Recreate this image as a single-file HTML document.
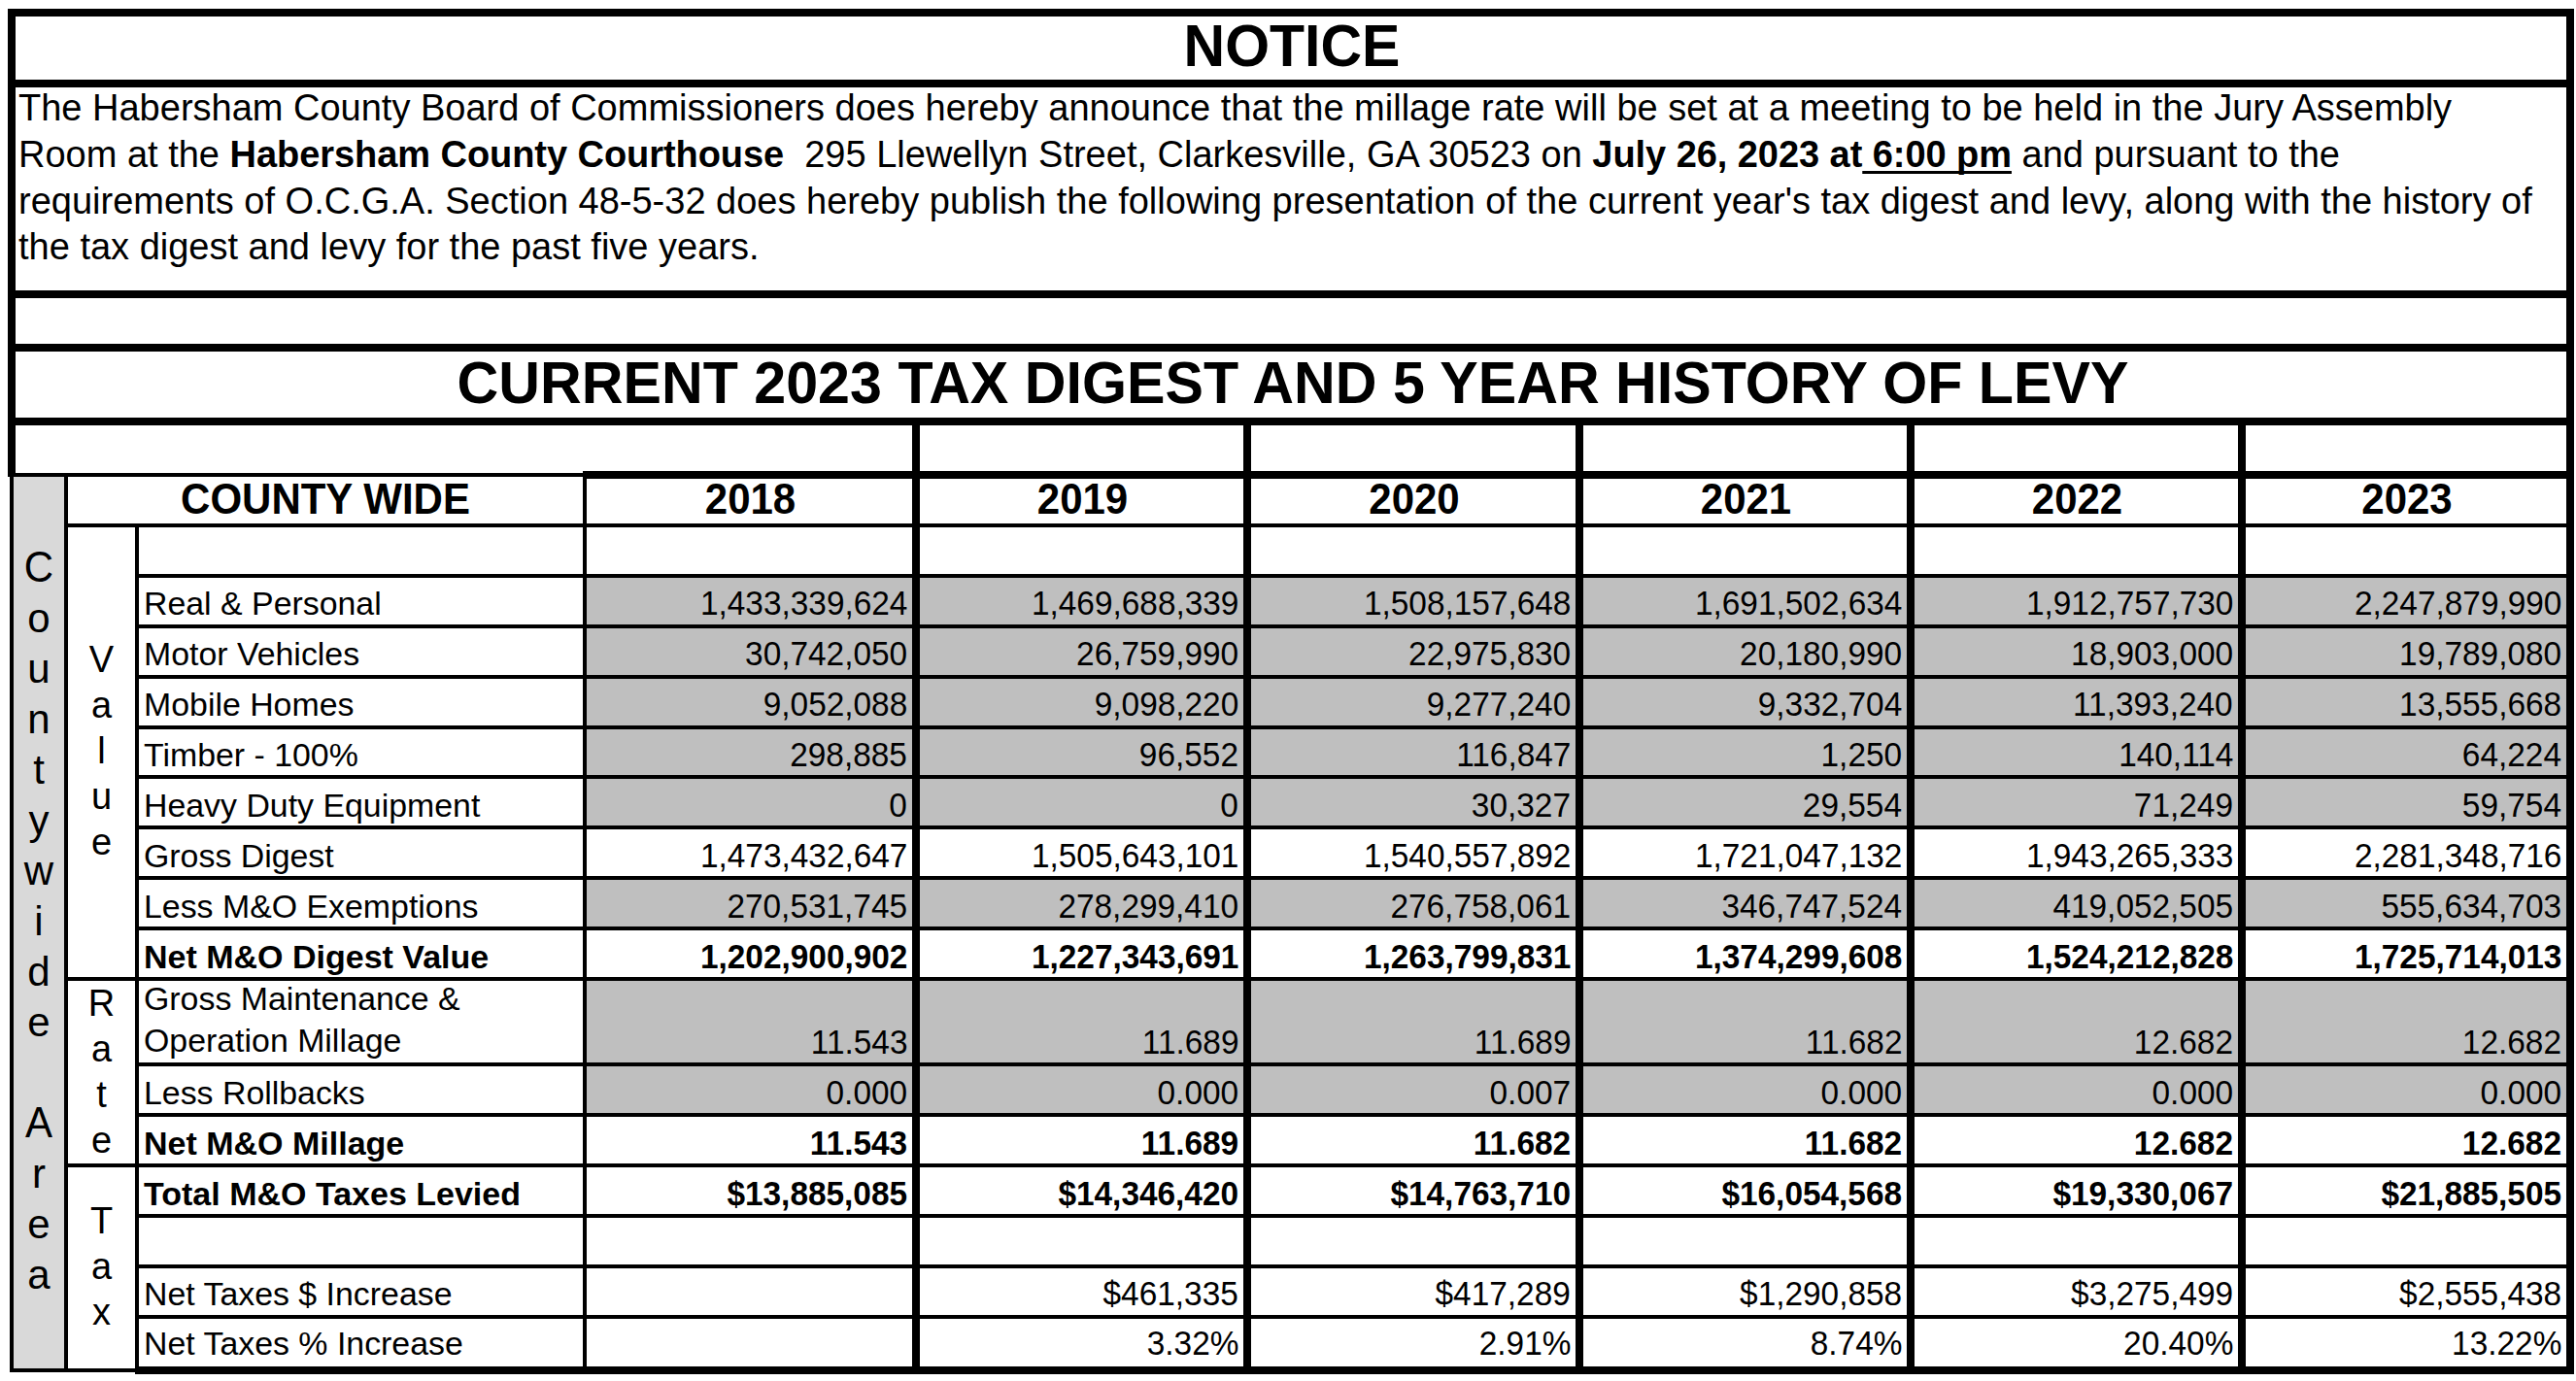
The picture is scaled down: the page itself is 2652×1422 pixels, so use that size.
<!DOCTYPE html>
<html><head><meta charset="utf-8"><title>Notice</title>
<style>
html,body{margin:0;padding:0;background:#fff;}
body{width:2652px;height:1422px;position:relative;overflow:hidden;font-family:"Liberation Sans",sans-serif;color:#000;}
body>div{position:absolute;}
.t{white-space:pre;}
b{letter-spacing:-0.06px;}
u{text-decoration-thickness:3px;text-underline-offset:4px;text-decoration-skip-ink:none;}
</style></head><body>
<div style="left:14px;top:491px;width:52px;height:918px;background:#d9d9d9"></div>
<div style="left:604px;top:595px;width:335px;height:48px;background:#bfbfbf"></div>
<div style="left:947px;top:595px;width:333px;height:48px;background:#bfbfbf"></div>
<div style="left:1288px;top:595px;width:334px;height:48px;background:#bfbfbf"></div>
<div style="left:1630px;top:595px;width:333px;height:48px;background:#bfbfbf"></div>
<div style="left:1971px;top:595px;width:333px;height:48px;background:#bfbfbf"></div>
<div style="left:2312px;top:595px;width:330px;height:48px;background:#bfbfbf"></div>
<div style="left:604px;top:647px;width:335px;height:48px;background:#bfbfbf"></div>
<div style="left:947px;top:647px;width:333px;height:48px;background:#bfbfbf"></div>
<div style="left:1288px;top:647px;width:334px;height:48px;background:#bfbfbf"></div>
<div style="left:1630px;top:647px;width:333px;height:48px;background:#bfbfbf"></div>
<div style="left:1971px;top:647px;width:333px;height:48px;background:#bfbfbf"></div>
<div style="left:2312px;top:647px;width:330px;height:48px;background:#bfbfbf"></div>
<div style="left:604px;top:699px;width:335px;height:48px;background:#bfbfbf"></div>
<div style="left:947px;top:699px;width:333px;height:48px;background:#bfbfbf"></div>
<div style="left:1288px;top:699px;width:334px;height:48px;background:#bfbfbf"></div>
<div style="left:1630px;top:699px;width:333px;height:48px;background:#bfbfbf"></div>
<div style="left:1971px;top:699px;width:333px;height:48px;background:#bfbfbf"></div>
<div style="left:2312px;top:699px;width:330px;height:48px;background:#bfbfbf"></div>
<div style="left:604px;top:751px;width:335px;height:47px;background:#bfbfbf"></div>
<div style="left:947px;top:751px;width:333px;height:47px;background:#bfbfbf"></div>
<div style="left:1288px;top:751px;width:334px;height:47px;background:#bfbfbf"></div>
<div style="left:1630px;top:751px;width:333px;height:47px;background:#bfbfbf"></div>
<div style="left:1971px;top:751px;width:333px;height:47px;background:#bfbfbf"></div>
<div style="left:2312px;top:751px;width:330px;height:47px;background:#bfbfbf"></div>
<div style="left:604px;top:802px;width:335px;height:48px;background:#bfbfbf"></div>
<div style="left:947px;top:802px;width:333px;height:48px;background:#bfbfbf"></div>
<div style="left:1288px;top:802px;width:334px;height:48px;background:#bfbfbf"></div>
<div style="left:1630px;top:802px;width:333px;height:48px;background:#bfbfbf"></div>
<div style="left:1971px;top:802px;width:333px;height:48px;background:#bfbfbf"></div>
<div style="left:2312px;top:802px;width:330px;height:48px;background:#bfbfbf"></div>
<div style="left:604px;top:906px;width:335px;height:48px;background:#bfbfbf"></div>
<div style="left:947px;top:906px;width:333px;height:48px;background:#bfbfbf"></div>
<div style="left:1288px;top:906px;width:334px;height:48px;background:#bfbfbf"></div>
<div style="left:1630px;top:906px;width:333px;height:48px;background:#bfbfbf"></div>
<div style="left:1971px;top:906px;width:333px;height:48px;background:#bfbfbf"></div>
<div style="left:2312px;top:906px;width:330px;height:48px;background:#bfbfbf"></div>
<div style="left:604px;top:1010px;width:335px;height:84px;background:#bfbfbf"></div>
<div style="left:947px;top:1010px;width:333px;height:84px;background:#bfbfbf"></div>
<div style="left:1288px;top:1010px;width:334px;height:84px;background:#bfbfbf"></div>
<div style="left:1630px;top:1010px;width:333px;height:84px;background:#bfbfbf"></div>
<div style="left:1971px;top:1010px;width:333px;height:84px;background:#bfbfbf"></div>
<div style="left:2312px;top:1010px;width:330px;height:84px;background:#bfbfbf"></div>
<div style="left:604px;top:1098px;width:335px;height:48px;background:#bfbfbf"></div>
<div style="left:947px;top:1098px;width:333px;height:48px;background:#bfbfbf"></div>
<div style="left:1288px;top:1098px;width:334px;height:48px;background:#bfbfbf"></div>
<div style="left:1630px;top:1098px;width:333px;height:48px;background:#bfbfbf"></div>
<div style="left:1971px;top:1098px;width:333px;height:48px;background:#bfbfbf"></div>
<div style="left:2312px;top:1098px;width:330px;height:48px;background:#bfbfbf"></div>
<div style="left:8px;top:9px;width:2642px;height:8px;background:#000"></div>
<div style="left:8px;top:9px;width:8px;height:482px;background:#000"></div>
<div style="left:2642px;top:9px;width:8px;height:1406px;background:#000"></div>
<div style="left:16px;top:82px;width:2626px;height:8px;background:#000"></div>
<div style="left:16px;top:299px;width:2626px;height:8px;background:#000"></div>
<div style="left:16px;top:354px;width:2626px;height:8px;background:#000"></div>
<div style="left:16px;top:430px;width:2626px;height:8px;background:#000"></div>
<div style="left:16px;top:487px;width:584px;height:4px;background:#000"></div>
<div style="left:600px;top:485px;width:2042px;height:8px;background:#000"></div>
<div style="left:10px;top:491px;width:4px;height:922px;background:#000"></div>
<div style="left:66px;top:491px;width:4px;height:922px;background:#000"></div>
<div style="left:139px;top:543px;width:4px;height:870px;background:#000"></div>
<div style="left:600px;top:491px;width:4px;height:916px;background:#000"></div>
<div style="left:939px;top:438px;width:8px;height:969px;background:#000"></div>
<div style="left:1280px;top:438px;width:8px;height:969px;background:#000"></div>
<div style="left:1622px;top:438px;width:8px;height:969px;background:#000"></div>
<div style="left:1963px;top:438px;width:8px;height:969px;background:#000"></div>
<div style="left:2304px;top:438px;width:8px;height:969px;background:#000"></div>
<div style="left:70px;top:539px;width:2572px;height:4px;background:#000"></div>
<div style="left:139px;top:591px;width:2503px;height:4px;background:#000"></div>
<div style="left:139px;top:643px;width:2503px;height:4px;background:#000"></div>
<div style="left:139px;top:695px;width:2503px;height:4px;background:#000"></div>
<div style="left:139px;top:747px;width:2503px;height:4px;background:#000"></div>
<div style="left:139px;top:798px;width:2503px;height:4px;background:#000"></div>
<div style="left:139px;top:850px;width:2503px;height:4px;background:#000"></div>
<div style="left:139px;top:902px;width:2503px;height:4px;background:#000"></div>
<div style="left:139px;top:954px;width:2503px;height:4px;background:#000"></div>
<div style="left:70px;top:1006px;width:2572px;height:4px;background:#000"></div>
<div style="left:139px;top:1094px;width:2503px;height:4px;background:#000"></div>
<div style="left:139px;top:1146px;width:2503px;height:4px;background:#000"></div>
<div style="left:70px;top:1198px;width:2572px;height:4px;background:#000"></div>
<div style="left:139px;top:1250px;width:2503px;height:4px;background:#000"></div>
<div style="left:139px;top:1302px;width:2503px;height:4px;background:#000"></div>
<div style="left:139px;top:1354px;width:2503px;height:4px;background:#000"></div>
<div style="left:10px;top:1409px;width:133px;height:4px;background:#000"></div>
<div style="left:139px;top:1407px;width:2511px;height:8px;background:#000"></div>
<div class="t" style="top:19px;font-size:59px;line-height:59px;transform:scaleY(1.04);transform-origin:0 49px;font-weight:bold;left:-670.0px;width:4000px;text-align:center;">NOTICE</div>
<div class="t" style="top:92px;font-size:38px;line-height:38px;left:19px;">The Habersham County Board of Commissioners does hereby announce that the millage rate will be set at a meeting to be held in the Jury Assembly</div>
<div class="t" style="top:140px;font-size:38px;line-height:38px;left:19px;">Room at the <b>Habersham County Courthouse</b>&nbsp; 295 Llewellyn Street, Clarkesville, GA 30523 on <b>July 26, 2023 at<u> 6:00 pm</u></b> and pursuant to the</div>
<div class="t" style="top:188px;font-size:38px;line-height:38px;left:19px;">requirements of O.C.G.A. Section 48-5-32 does hereby publish the following presentation of the current year's tax digest and levy, along with the history of</div>
<div class="t" style="top:235px;font-size:38px;line-height:38px;left:19px;">the tax digest and levy for the past five years.</div>
<div class="t" style="top:366px;font-size:59px;line-height:59px;transform:scale(1.003,1.04);transform-origin:50% 49px;font-weight:bold;left:-669.0px;width:4000px;text-align:center;">CURRENT 2023 TAX DIGEST AND 5 YEAR HISTORY OF LEVY</div>
<div class="t" style="top:494px;font-size:42px;line-height:42px;transform:scaleY(1.04);transform-origin:0 35px;font-weight:bold;left:-1665.0px;width:4000px;text-align:center;">COUNTY WIDE</div>
<div class="t" style="top:494px;font-size:42px;line-height:42px;transform:scaleY(1.04);transform-origin:0 35px;font-weight:bold;left:-1227.5px;width:4000px;text-align:center;">2018</div>
<div class="t" style="top:494px;font-size:42px;line-height:42px;transform:scaleY(1.04);transform-origin:0 35px;font-weight:bold;left:-885.5px;width:4000px;text-align:center;">2019</div>
<div class="t" style="top:494px;font-size:42px;line-height:42px;transform:scaleY(1.04);transform-origin:0 35px;font-weight:bold;left:-544.0px;width:4000px;text-align:center;">2020</div>
<div class="t" style="top:494px;font-size:42px;line-height:42px;transform:scaleY(1.04);transform-origin:0 35px;font-weight:bold;left:-202.5px;width:4000px;text-align:center;">2021</div>
<div class="t" style="top:494px;font-size:42px;line-height:42px;transform:scaleY(1.04);transform-origin:0 35px;font-weight:bold;left:138.5px;width:4000px;text-align:center;">2022</div>
<div class="t" style="top:494px;font-size:42px;line-height:42px;transform:scaleY(1.04);transform-origin:0 35px;font-weight:bold;left:478.0px;width:4000px;text-align:center;">2023</div>
<div class="t" style="top:604px;font-size:34px;line-height:34px;transform:scale(0.996,1);transform-origin:0 29px;left:148px;">Real &amp; Personal</div>
<div class="t" style="top:604px;font-size:34px;line-height:34px;transform:scale(0.982,1.04);transform-origin:100% 29px;right:1718px;text-align:right;">1,433,339,624</div>
<div class="t" style="top:604px;font-size:34px;line-height:34px;transform:scale(0.982,1.04);transform-origin:100% 29px;right:1377px;text-align:right;">1,469,688,339</div>
<div class="t" style="top:604px;font-size:34px;line-height:34px;transform:scale(0.982,1.04);transform-origin:100% 29px;right:1035px;text-align:right;">1,508,157,648</div>
<div class="t" style="top:604px;font-size:34px;line-height:34px;transform:scale(0.982,1.04);transform-origin:100% 29px;right:694px;text-align:right;">1,691,502,634</div>
<div class="t" style="top:604px;font-size:34px;line-height:34px;transform:scale(0.982,1.04);transform-origin:100% 29px;right:353px;text-align:right;">1,912,757,730</div>
<div class="t" style="top:604px;font-size:34px;line-height:34px;transform:scale(0.982,1.04);transform-origin:100% 29px;right:15px;text-align:right;">2,247,879,990</div>
<div class="t" style="top:656px;font-size:34px;line-height:34px;transform:scale(0.996,1);transform-origin:0 29px;left:148px;">Motor Vehicles</div>
<div class="t" style="top:656px;font-size:34px;line-height:34px;transform:scale(0.982,1.04);transform-origin:100% 29px;right:1718px;text-align:right;">30,742,050</div>
<div class="t" style="top:656px;font-size:34px;line-height:34px;transform:scale(0.982,1.04);transform-origin:100% 29px;right:1377px;text-align:right;">26,759,990</div>
<div class="t" style="top:656px;font-size:34px;line-height:34px;transform:scale(0.982,1.04);transform-origin:100% 29px;right:1035px;text-align:right;">22,975,830</div>
<div class="t" style="top:656px;font-size:34px;line-height:34px;transform:scale(0.982,1.04);transform-origin:100% 29px;right:694px;text-align:right;">20,180,990</div>
<div class="t" style="top:656px;font-size:34px;line-height:34px;transform:scale(0.982,1.04);transform-origin:100% 29px;right:353px;text-align:right;">18,903,000</div>
<div class="t" style="top:656px;font-size:34px;line-height:34px;transform:scale(0.982,1.04);transform-origin:100% 29px;right:15px;text-align:right;">19,789,080</div>
<div class="t" style="top:708px;font-size:34px;line-height:34px;transform:scale(0.996,1);transform-origin:0 29px;left:148px;">Mobile Homes</div>
<div class="t" style="top:708px;font-size:34px;line-height:34px;transform:scale(0.982,1.04);transform-origin:100% 29px;right:1718px;text-align:right;">9,052,088</div>
<div class="t" style="top:708px;font-size:34px;line-height:34px;transform:scale(0.982,1.04);transform-origin:100% 29px;right:1377px;text-align:right;">9,098,220</div>
<div class="t" style="top:708px;font-size:34px;line-height:34px;transform:scale(0.982,1.04);transform-origin:100% 29px;right:1035px;text-align:right;">9,277,240</div>
<div class="t" style="top:708px;font-size:34px;line-height:34px;transform:scale(0.982,1.04);transform-origin:100% 29px;right:694px;text-align:right;">9,332,704</div>
<div class="t" style="top:708px;font-size:34px;line-height:34px;transform:scale(0.982,1.04);transform-origin:100% 29px;right:353px;text-align:right;">11,393,240</div>
<div class="t" style="top:708px;font-size:34px;line-height:34px;transform:scale(0.982,1.04);transform-origin:100% 29px;right:15px;text-align:right;">13,555,668</div>
<div class="t" style="top:760px;font-size:34px;line-height:34px;transform:scale(0.996,1);transform-origin:0 29px;left:148px;">Timber - 100%</div>
<div class="t" style="top:760px;font-size:34px;line-height:34px;transform:scale(0.982,1.04);transform-origin:100% 29px;right:1718px;text-align:right;">298,885</div>
<div class="t" style="top:760px;font-size:34px;line-height:34px;transform:scale(0.982,1.04);transform-origin:100% 29px;right:1377px;text-align:right;">96,552</div>
<div class="t" style="top:760px;font-size:34px;line-height:34px;transform:scale(0.982,1.04);transform-origin:100% 29px;right:1035px;text-align:right;">116,847</div>
<div class="t" style="top:760px;font-size:34px;line-height:34px;transform:scale(0.982,1.04);transform-origin:100% 29px;right:694px;text-align:right;">1,250</div>
<div class="t" style="top:760px;font-size:34px;line-height:34px;transform:scale(0.982,1.04);transform-origin:100% 29px;right:353px;text-align:right;">140,114</div>
<div class="t" style="top:760px;font-size:34px;line-height:34px;transform:scale(0.982,1.04);transform-origin:100% 29px;right:15px;text-align:right;">64,224</div>
<div class="t" style="top:812px;font-size:34px;line-height:34px;transform:scale(0.996,1);transform-origin:0 29px;left:148px;">Heavy Duty Equipment</div>
<div class="t" style="top:812px;font-size:34px;line-height:34px;transform:scale(0.982,1.04);transform-origin:100% 29px;right:1718px;text-align:right;">0</div>
<div class="t" style="top:812px;font-size:34px;line-height:34px;transform:scale(0.982,1.04);transform-origin:100% 29px;right:1377px;text-align:right;">0</div>
<div class="t" style="top:812px;font-size:34px;line-height:34px;transform:scale(0.982,1.04);transform-origin:100% 29px;right:1035px;text-align:right;">30,327</div>
<div class="t" style="top:812px;font-size:34px;line-height:34px;transform:scale(0.982,1.04);transform-origin:100% 29px;right:694px;text-align:right;">29,554</div>
<div class="t" style="top:812px;font-size:34px;line-height:34px;transform:scale(0.982,1.04);transform-origin:100% 29px;right:353px;text-align:right;">71,249</div>
<div class="t" style="top:812px;font-size:34px;line-height:34px;transform:scale(0.982,1.04);transform-origin:100% 29px;right:15px;text-align:right;">59,754</div>
<div class="t" style="top:864px;font-size:34px;line-height:34px;transform:scale(0.996,1);transform-origin:0 29px;left:148px;">Gross Digest</div>
<div class="t" style="top:864px;font-size:34px;line-height:34px;transform:scale(0.982,1.04);transform-origin:100% 29px;right:1718px;text-align:right;">1,473,432,647</div>
<div class="t" style="top:864px;font-size:34px;line-height:34px;transform:scale(0.982,1.04);transform-origin:100% 29px;right:1377px;text-align:right;">1,505,643,101</div>
<div class="t" style="top:864px;font-size:34px;line-height:34px;transform:scale(0.982,1.04);transform-origin:100% 29px;right:1035px;text-align:right;">1,540,557,892</div>
<div class="t" style="top:864px;font-size:34px;line-height:34px;transform:scale(0.982,1.04);transform-origin:100% 29px;right:694px;text-align:right;">1,721,047,132</div>
<div class="t" style="top:864px;font-size:34px;line-height:34px;transform:scale(0.982,1.04);transform-origin:100% 29px;right:353px;text-align:right;">1,943,265,333</div>
<div class="t" style="top:864px;font-size:34px;line-height:34px;transform:scale(0.982,1.04);transform-origin:100% 29px;right:15px;text-align:right;">2,281,348,716</div>
<div class="t" style="top:916px;font-size:34px;line-height:34px;transform:scale(0.996,1);transform-origin:0 29px;left:148px;">Less M&amp;O Exemptions</div>
<div class="t" style="top:916px;font-size:34px;line-height:34px;transform:scale(0.982,1.04);transform-origin:100% 29px;right:1718px;text-align:right;">270,531,745</div>
<div class="t" style="top:916px;font-size:34px;line-height:34px;transform:scale(0.982,1.04);transform-origin:100% 29px;right:1377px;text-align:right;">278,299,410</div>
<div class="t" style="top:916px;font-size:34px;line-height:34px;transform:scale(0.982,1.04);transform-origin:100% 29px;right:1035px;text-align:right;">276,758,061</div>
<div class="t" style="top:916px;font-size:34px;line-height:34px;transform:scale(0.982,1.04);transform-origin:100% 29px;right:694px;text-align:right;">346,747,524</div>
<div class="t" style="top:916px;font-size:34px;line-height:34px;transform:scale(0.982,1.04);transform-origin:100% 29px;right:353px;text-align:right;">419,052,505</div>
<div class="t" style="top:916px;font-size:34px;line-height:34px;transform:scale(0.982,1.04);transform-origin:100% 29px;right:15px;text-align:right;">555,634,703</div>
<div class="t" style="top:968px;font-size:34px;line-height:34px;font-weight:bold;left:148px;">Net M&amp;O Digest Value</div>
<div class="t" style="top:968px;font-size:34px;line-height:34px;transform:scale(0.982,1.04);transform-origin:100% 29px;font-weight:bold;right:1718px;text-align:right;">1,202,900,902</div>
<div class="t" style="top:968px;font-size:34px;line-height:34px;transform:scale(0.982,1.04);transform-origin:100% 29px;font-weight:bold;right:1377px;text-align:right;">1,227,343,691</div>
<div class="t" style="top:968px;font-size:34px;line-height:34px;transform:scale(0.982,1.04);transform-origin:100% 29px;font-weight:bold;right:1035px;text-align:right;">1,263,799,831</div>
<div class="t" style="top:968px;font-size:34px;line-height:34px;transform:scale(0.982,1.04);transform-origin:100% 29px;font-weight:bold;right:694px;text-align:right;">1,374,299,608</div>
<div class="t" style="top:968px;font-size:34px;line-height:34px;transform:scale(0.982,1.04);transform-origin:100% 29px;font-weight:bold;right:353px;text-align:right;">1,524,212,828</div>
<div class="t" style="top:968px;font-size:34px;line-height:34px;transform:scale(0.982,1.04);transform-origin:100% 29px;font-weight:bold;right:15px;text-align:right;">1,725,714,013</div>
<div class="t" style="top:1011px;font-size:34px;line-height:34px;transform:scale(0.996,1);transform-origin:0 29px;left:148px;">Gross Maintenance &amp;</div>
<div class="t" style="top:1054px;font-size:34px;line-height:34px;transform:scale(0.996,1);transform-origin:0 29px;left:148px;">Operation Millage</div>
<div class="t" style="top:1056px;font-size:34px;line-height:34px;transform:scale(0.982,1.04);transform-origin:100% 29px;right:1718px;text-align:right;">11.543</div>
<div class="t" style="top:1056px;font-size:34px;line-height:34px;transform:scale(0.982,1.04);transform-origin:100% 29px;right:1377px;text-align:right;">11.689</div>
<div class="t" style="top:1056px;font-size:34px;line-height:34px;transform:scale(0.982,1.04);transform-origin:100% 29px;right:1035px;text-align:right;">11.689</div>
<div class="t" style="top:1056px;font-size:34px;line-height:34px;transform:scale(0.982,1.04);transform-origin:100% 29px;right:694px;text-align:right;">11.682</div>
<div class="t" style="top:1056px;font-size:34px;line-height:34px;transform:scale(0.982,1.04);transform-origin:100% 29px;right:353px;text-align:right;">12.682</div>
<div class="t" style="top:1056px;font-size:34px;line-height:34px;transform:scale(0.982,1.04);transform-origin:100% 29px;right:15px;text-align:right;">12.682</div>
<div class="t" style="top:1108px;font-size:34px;line-height:34px;transform:scale(0.996,1);transform-origin:0 29px;left:148px;">Less Rollbacks</div>
<div class="t" style="top:1108px;font-size:34px;line-height:34px;transform:scale(0.982,1.04);transform-origin:100% 29px;right:1718px;text-align:right;">0.000</div>
<div class="t" style="top:1108px;font-size:34px;line-height:34px;transform:scale(0.982,1.04);transform-origin:100% 29px;right:1377px;text-align:right;">0.000</div>
<div class="t" style="top:1108px;font-size:34px;line-height:34px;transform:scale(0.982,1.04);transform-origin:100% 29px;right:1035px;text-align:right;">0.007</div>
<div class="t" style="top:1108px;font-size:34px;line-height:34px;transform:scale(0.982,1.04);transform-origin:100% 29px;right:694px;text-align:right;">0.000</div>
<div class="t" style="top:1108px;font-size:34px;line-height:34px;transform:scale(0.982,1.04);transform-origin:100% 29px;right:353px;text-align:right;">0.000</div>
<div class="t" style="top:1108px;font-size:34px;line-height:34px;transform:scale(0.982,1.04);transform-origin:100% 29px;right:15px;text-align:right;">0.000</div>
<div class="t" style="top:1160px;font-size:34px;line-height:34px;font-weight:bold;left:148px;">Net M&amp;O Millage</div>
<div class="t" style="top:1160px;font-size:34px;line-height:34px;transform:scale(0.982,1.04);transform-origin:100% 29px;font-weight:bold;right:1718px;text-align:right;">11.543</div>
<div class="t" style="top:1160px;font-size:34px;line-height:34px;transform:scale(0.982,1.04);transform-origin:100% 29px;font-weight:bold;right:1377px;text-align:right;">11.689</div>
<div class="t" style="top:1160px;font-size:34px;line-height:34px;transform:scale(0.982,1.04);transform-origin:100% 29px;font-weight:bold;right:1035px;text-align:right;">11.682</div>
<div class="t" style="top:1160px;font-size:34px;line-height:34px;transform:scale(0.982,1.04);transform-origin:100% 29px;font-weight:bold;right:694px;text-align:right;">11.682</div>
<div class="t" style="top:1160px;font-size:34px;line-height:34px;transform:scale(0.982,1.04);transform-origin:100% 29px;font-weight:bold;right:353px;text-align:right;">12.682</div>
<div class="t" style="top:1160px;font-size:34px;line-height:34px;transform:scale(0.982,1.04);transform-origin:100% 29px;font-weight:bold;right:15px;text-align:right;">12.682</div>
<div class="t" style="top:1212px;font-size:34px;line-height:34px;font-weight:bold;left:148px;">Total M&amp;O Taxes Levied</div>
<div class="t" style="top:1212px;font-size:34px;line-height:34px;transform:scale(0.982,1.04);transform-origin:100% 29px;font-weight:bold;right:1718px;text-align:right;">$13,885,085</div>
<div class="t" style="top:1212px;font-size:34px;line-height:34px;transform:scale(0.982,1.04);transform-origin:100% 29px;font-weight:bold;right:1377px;text-align:right;">$14,346,420</div>
<div class="t" style="top:1212px;font-size:34px;line-height:34px;transform:scale(0.982,1.04);transform-origin:100% 29px;font-weight:bold;right:1035px;text-align:right;">$14,763,710</div>
<div class="t" style="top:1212px;font-size:34px;line-height:34px;transform:scale(0.982,1.04);transform-origin:100% 29px;font-weight:bold;right:694px;text-align:right;">$16,054,568</div>
<div class="t" style="top:1212px;font-size:34px;line-height:34px;transform:scale(0.982,1.04);transform-origin:100% 29px;font-weight:bold;right:353px;text-align:right;">$19,330,067</div>
<div class="t" style="top:1212px;font-size:34px;line-height:34px;transform:scale(0.982,1.04);transform-origin:100% 29px;font-weight:bold;right:15px;text-align:right;">$21,885,505</div>
<div class="t" style="top:1315px;font-size:34px;line-height:34px;transform:scale(0.996,1);transform-origin:0 29px;left:148px;">Net Taxes $ Increase</div>
<div class="t" style="top:1315px;font-size:34px;line-height:34px;transform:scale(0.982,1.04);transform-origin:100% 29px;right:1377px;text-align:right;">$461,335</div>
<div class="t" style="top:1315px;font-size:34px;line-height:34px;transform:scale(0.982,1.04);transform-origin:100% 29px;right:1035px;text-align:right;">$417,289</div>
<div class="t" style="top:1315px;font-size:34px;line-height:34px;transform:scale(0.982,1.04);transform-origin:100% 29px;right:694px;text-align:right;">$1,290,858</div>
<div class="t" style="top:1315px;font-size:34px;line-height:34px;transform:scale(0.982,1.04);transform-origin:100% 29px;right:353px;text-align:right;">$3,275,499</div>
<div class="t" style="top:1315px;font-size:34px;line-height:34px;transform:scale(0.982,1.04);transform-origin:100% 29px;right:15px;text-align:right;">$2,555,438</div>
<div class="t" style="top:1366px;font-size:34px;line-height:34px;transform:scale(0.996,1);transform-origin:0 29px;left:148px;">Net Taxes % Increase</div>
<div class="t" style="top:1366px;font-size:34px;line-height:34px;transform:scale(0.982,1.04);transform-origin:100% 29px;right:1377px;text-align:right;">3.32%</div>
<div class="t" style="top:1366px;font-size:34px;line-height:34px;transform:scale(0.982,1.04);transform-origin:100% 29px;right:1035px;text-align:right;">2.91%</div>
<div class="t" style="top:1366px;font-size:34px;line-height:34px;transform:scale(0.982,1.04);transform-origin:100% 29px;right:694px;text-align:right;">8.74%</div>
<div class="t" style="top:1366px;font-size:34px;line-height:34px;transform:scale(0.982,1.04);transform-origin:100% 29px;right:353px;text-align:right;">20.40%</div>
<div class="t" style="top:1366px;font-size:34px;line-height:34px;transform:scale(0.982,1.04);transform-origin:100% 29px;right:15px;text-align:right;">13.22%</div>
<div class="t" style="top:564px;font-size:42px;line-height:42px;transform:scaleY(1.04);transform-origin:0 35px;left:-1960.0px;width:4000px;text-align:center;">C</div>
<div class="t" style="top:616px;font-size:42px;line-height:42px;left:-1960.0px;width:4000px;text-align:center;">o</div>
<div class="t" style="top:668px;font-size:42px;line-height:42px;left:-1960.0px;width:4000px;text-align:center;">u</div>
<div class="t" style="top:720px;font-size:42px;line-height:42px;left:-1960.0px;width:4000px;text-align:center;">n</div>
<div class="t" style="top:772px;font-size:42px;line-height:42px;left:-1960.0px;width:4000px;text-align:center;">t</div>
<div class="t" style="top:824px;font-size:42px;line-height:42px;left:-1960.0px;width:4000px;text-align:center;">y</div>
<div class="t" style="top:876px;font-size:42px;line-height:42px;left:-1960.0px;width:4000px;text-align:center;">w</div>
<div class="t" style="top:928px;font-size:42px;line-height:42px;left:-1960.0px;width:4000px;text-align:center;">i</div>
<div class="t" style="top:980px;font-size:42px;line-height:42px;left:-1960.0px;width:4000px;text-align:center;">d</div>
<div class="t" style="top:1032px;font-size:42px;line-height:42px;left:-1960.0px;width:4000px;text-align:center;">e</div>
<div class="t" style="top:1136px;font-size:42px;line-height:42px;transform:scaleY(1.04);transform-origin:0 35px;left:-1960.0px;width:4000px;text-align:center;">A</div>
<div class="t" style="top:1188px;font-size:42px;line-height:42px;left:-1960.0px;width:4000px;text-align:center;">r</div>
<div class="t" style="top:1240px;font-size:42px;line-height:42px;left:-1960.0px;width:4000px;text-align:center;">e</div>
<div class="t" style="top:1292px;font-size:42px;line-height:42px;left:-1960.0px;width:4000px;text-align:center;">a</div>
<div class="t" style="top:660px;font-size:38px;line-height:38px;transform:scaleY(1.04);transform-origin:0 32px;left:-1895.5px;width:4000px;text-align:center;">V</div>
<div class="t" style="top:707px;font-size:38px;line-height:38px;left:-1895.5px;width:4000px;text-align:center;">a</div>
<div class="t" style="top:754px;font-size:38px;line-height:38px;left:-1895.5px;width:4000px;text-align:center;">l</div>
<div class="t" style="top:801px;font-size:38px;line-height:38px;left:-1895.5px;width:4000px;text-align:center;">u</div>
<div class="t" style="top:848px;font-size:38px;line-height:38px;left:-1895.5px;width:4000px;text-align:center;">e</div>
<div class="t" style="top:1014px;font-size:38px;line-height:38px;transform:scaleY(1.04);transform-origin:0 32px;left:-1895.5px;width:4000px;text-align:center;">R</div>
<div class="t" style="top:1061px;font-size:38px;line-height:38px;left:-1895.5px;width:4000px;text-align:center;">a</div>
<div class="t" style="top:1108px;font-size:38px;line-height:38px;left:-1895.5px;width:4000px;text-align:center;">t</div>
<div class="t" style="top:1155px;font-size:38px;line-height:38px;left:-1895.5px;width:4000px;text-align:center;">e</div>
<div class="t" style="top:1238px;font-size:38px;line-height:38px;transform:scaleY(1.04);transform-origin:0 32px;left:-1895.5px;width:4000px;text-align:center;">T</div>
<div class="t" style="top:1285px;font-size:38px;line-height:38px;left:-1895.5px;width:4000px;text-align:center;">a</div>
<div class="t" style="top:1332px;font-size:38px;line-height:38px;left:-1895.5px;width:4000px;text-align:center;">x</div>
</body></html>
